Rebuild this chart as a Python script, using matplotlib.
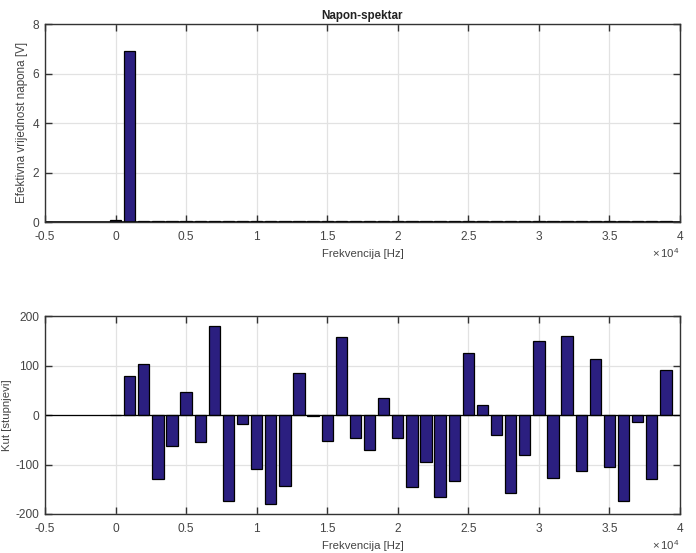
import numpy as np
import matplotlib
matplotlib.use('Agg')
import matplotlib.pyplot as plt

plt.rcParams['font.family'] = ['Liberation Sans', 'DejaVu Sans']
plt.rcParams['mathtext.default'] = 'regular'

# Frekvencije [Hz]
freq = np.arange(0, 40000, 1000)

# Efektivna vrijednost napona [V]
napon = [0.08, 6.9, 0.03, 0.03, 0.03, 0.03, 0.03, 0.03, 0.03, 0.03,
         0.03, 0.03, 0.03, 0.03, 0.03, 0.03, 0.03, 0.03, 0.03, 0.03,
         0.03, 0.03, 0.03, 0.03, 0.03, 0.03, 0.03, 0.03, 0.03, 0.03,
         0.03, 0.03, 0.03, 0.03, 0.03, 0.03, 0.03, 0.03, 0.03, 0.03]

# Kut [stupnjevi]
kut = [0, 78, 104, -130, -63, 46, -55, 180, -173, -19,
       -110, -179, -143, 85, -3, -52, 158, -47, -71, 35,
       -47, -145, -95, -166, -133, 126, 20, -41, -158, -80,
       150, -128, 160, -113, 113, -106, -173, -15, -130, 91]

x_ticks = [-5000, 0, 5000, 10000, 15000, 20000, 25000, 30000, 35000, 40000]
x_labels = ['-0.5', '0', '0.5', '1', '1.5', '2', '2.5', '3', '3.5', '4']
y1_ticks = [0, 2, 4, 6, 8]
y2_ticks = [-200, -100, 0, 100, 200]
y2_labels = ['-200', '-100', '0', '100', '200']

W, H = 696, 553
boja = '#2b1f80'
siva = '#444444'


def uredi(ax):
    ax.set_xlim(-5000, 40000)
    ax.set_xticks(x_ticks)
    ax.set_xticklabels(x_labels)
    ax.set_xlabel('Frekvencija [Hz]', fontsize=8.2, color=siva, labelpad=4)
    ax.grid(True, color='#e2e2e2', linewidth=0.9)
    ax.set_axisbelow(True)
    ax.tick_params(direction='in', top=True, right=True, length=5, width=1,
                   color='#333333', labelcolor=siva, labelsize=8.6)
    ax.tick_params(axis='x', pad=6.6)
    ax.tick_params(axis='y', pad=4.3)
    for s in ax.spines.values():
        s.set_color('#333333')
        s.set_linewidth(1.0)
    ax.text(1.0, -0.158, r'$\times\,10^{4}$', transform=ax.transAxes, ha='right', va='center',
            fontsize=8.2, color=siva)


fig = plt.figure(figsize=(W / 100, H / 100), dpi=100)
ax1 = fig.add_axes([45 / W, 1 - 222 / H, 635 / W, 198 / H])
ax2 = fig.add_axes([45 / W, 1 - 514 / H, 635 / W, 198 / H])

ax1.bar(freq, napon, width=800, color=boja, edgecolor='black', linewidth=0.9)
ax1.axhline(0, color='black', linewidth=1.2)
ax1.set_ylim(0, 8)
ax1.set_yticks(y1_ticks)
ax1.set_ylabel('Efektivna vrijednost napona [V]', fontsize=8.4, color=siva)
ax1.yaxis.set_label_coords(-0.0275, 0.505)
ax1.set_title('Napon-spektar', fontsize=8.4, fontweight='bold', color='#222222', pad=3.5)
uredi(ax1)

ax2.bar(freq, kut, width=800, color=boja, edgecolor='black', linewidth=0.9)
ax2.axhline(0, color='black', linewidth=0.9)
ax2.set_ylim(-200, 200)
ax2.set_yticks(y2_ticks)
ax2.set_yticklabels(y2_labels)
ax2.set_ylabel('Kut [stupnjevi]', fontsize=8.2, color=siva)
ax2.yaxis.set_label_coords(-0.052, 0.5)
uredi(ax2)

fig.savefig('out.png', dpi=100)
